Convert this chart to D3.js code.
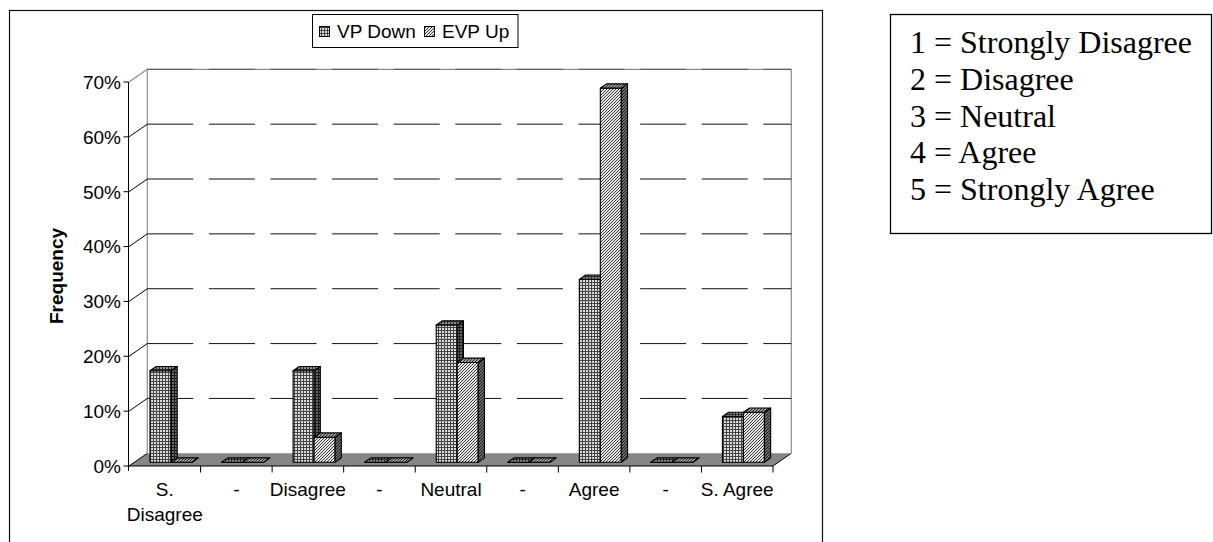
<!DOCTYPE html>
<html>
<head>
<meta charset="utf-8">
<script src="https://cdn.jsdelivr.net/npm/d3@7"></script>
<style>
  html, body { margin: 0; padding: 0; background: #fff; }
  svg { display: block; }
  text { font-family: "Liberation Sans", Arial, sans-serif; fill: #000; }
</style>
</head>
<body>
<svg id="chart" width="1213" height="542"></svg>
<script>
// Survey responses, percentage of each group per answer
const categories = ["S. Disagree", "-", "Disagree", "-", "Neutral", "-", "Agree", "-", "S. Agree"];
const seriesNames = ["VP Down", "EVP Up"];
const vpDown = [16.67, 0, 16.67, 0, 25, 0, 33.33, 0, 8.33];
const evpUp  = [0, 0, 4.55, 0, 18.18, 0, 68.18, 0, 9.09];
const yTicks = [0, 10, 20, 30, 40, 50, 60, 70];
const scaleKey = [
  "1 = Strongly Disagree",
  "2 = Disagree",
  "3 = Neutral",
  "4 = Agree",
  "5 = Strongly Agree"
];

const svg = d3.select("#chart");

// ---------- fill patterns for the 3-D faces ----------
const defs = svg.append("defs");
function gridPattern(id, bg, line) {
  const p = defs.append("pattern").attr("id", id)
    .attr("patternUnits", "userSpaceOnUse").attr("width", 3).attr("height", 3);
  p.append("rect").attr("width", 3).attr("height", 3).attr("fill", bg);
  p.append("path").attr("d", "M0,0.5H3M0.5,0V3").attr("stroke", line).attr("stroke-width", 1);
}
function hatchPattern(id, bg, line) {
  const p = defs.append("pattern").attr("id", id)
    .attr("patternUnits", "userSpaceOnUse").attr("width", 3).attr("height", 3);
  p.append("rect").attr("width", 3).attr("height", 3).attr("fill", bg);
  p.append("path").attr("d", "M-1,1L1,-1M0,3L3,0M2,4L4,2")
    .attr("stroke", line).attr("stroke-width", 1);
}
gridPattern("vpFront", "#dcdcdc", "#444");
gridPattern("vpSide", "#666", "#1a1a1a");
gridPattern("vpTop", "#8c8c8c", "#2a2a2a");
hatchPattern("evpFront", "#e6e6e6", "#3a3a3a");
hatchPattern("evpSide", "#6a6a6a", "#1a1a1a");
hatchPattern("evpTop", "#9a9a9a", "#2a2a2a");

const faceFill = {
  "VP Down": { front: "url(#vpFront)", side: "url(#vpSide)", top: "url(#vpTop)" },
  "EVP Up":  { front: "url(#evpFront)", side: "url(#evpSide)", top: "url(#evpTop)" }
};

// ---------- outer chart frame ----------
svg.append("rect").attr("x", 9.5).attr("y", 10.5).attr("width", 813).attr("height", 540)
  .attr("fill", "none").attr("stroke", "#111").attr("stroke-width", 1.2);

// ---------- scales ----------
const x = d3.scaleBand().domain(d3.range(categories.length)).range([129, 773]);
const y = d3.scaleLinear().domain([0, 70]).range([466, 82]);
const inner = d3.scaleBand().domain(seriesNames).range([15.5, 57.5]);
const depth = { dx: 18.3, dy: -12.7 };
const barDepth = [0.3, 0.64];
const proj = (px, py, f) => [px + f * depth.dx, py + f * depth.dy];

const y0 = y(0);
const xL = x.range()[0], xR = x.range()[1];
const yTop = y(70);

// ---------- floor ----------
const floor = [[xL, y0], [xR, y0], proj(xR, y0, 1), proj(xL, y0, 1)];
svg.append("polygon").attr("points", floor.map(p => p.join(",")).join(" "))
  .attr("fill", "#868686");
svg.append("path")
  .attr("d", d3.line()([proj(xL, y0, 1), [xL, y0], [xR, y0], proj(xR, y0, 1)]))
  .attr("fill", "none").attr("stroke", "#000").attr("stroke-width", 1);

// ---------- walls ----------
const wallColor = "#8c8c8c";
const bl = proj(xL, y0, 1), tl = proj(xL, yTop, 1), tr = proj(xR, yTop, 1), br = proj(xR, y0, 1);
svg.append("path").attr("d", d3.line()([bl, tl, tr, br]))
  .attr("fill", "none").attr("stroke", wallColor).attr("stroke-width", 1.2);
svg.append("path").attr("d", d3.line()([[xL, yTop], tl]))
  .attr("fill", "none").attr("stroke", wallColor).attr("stroke-width", 1.2);

// gridlines: diagonal on the side wall, dashed along the back wall
yTicks.filter(t => t > 0).forEach(t => {
  const a = [xL, y(t)], b = proj(xL, y(t), 1), c = proj(xR, y(t), 1);
  if (t < 70) {
    svg.append("path").attr("d", d3.line()([a, b]))
      .attr("stroke", "#000").attr("stroke-width", 1).attr("fill", "none");
  }
  svg.append("path").attr("d", d3.line()([b, c]))
    .attr("stroke", t < 70 ? "#111" : "#555").attr("stroke-width", 1).attr("fill", "none")
    .attr("stroke-dasharray", "46,15.6");
});

// ---------- bars ----------
function drawBar(i, name, v) {
  const fill = faceFill[name];
  const x0 = x(i) + inner(name), x1 = x0 + inner.bandwidth();
  const yt = y(v), yb = y(0);
  const [f0, f1] = barDepth;
  const g = svg.append("g");
  const faces = [
    { pts: [proj(x0, yb, f0), proj(x0, yt, f0), proj(x1, yt, f0), proj(x1, yb, f0)], fill: fill.front },
    { pts: [proj(x1, yb, f0), proj(x1, yt, f0), proj(x1, yt, f1), proj(x1, yb, f1)], fill: fill.side },
    { pts: [proj(x0, yt, f0), proj(x0, yt, f1), proj(x1, yt, f1), proj(x1, yt, f0)], fill: fill.top }
  ];
  g.selectAll("polygon").data(faces).join("polygon")
    .attr("points", d => d.pts.map(p => p.join(",")).join(" "))
    .attr("fill", d => d.fill)
    .attr("stroke", "#000").attr("stroke-width", 1.1).attr("stroke-linejoin", "round");
}
categories.forEach((c, i) => {
  drawBar(i, "VP Down", vpDown[i]);
  drawBar(i, "EVP Up", evpUp[i]);
});

// ---------- axes ----------
svg.append("line").attr("x1", xL - 0.5).attr("x2", xL - 0.5).attr("y1", yTop).attr("y2", y0 + 5)
  .attr("stroke", "#000").attr("stroke-width", 1);
yTicks.forEach(t => {
  svg.append("line").attr("x1", xL - 5.5).attr("x2", xL - 0.5)
    .attr("y1", y(t)).attr("y2", y(t)).attr("stroke", "#000").attr("stroke-width", 1);
  svg.append("text").attr("x", xL - 8).attr("y", y(t) + 6.8)
    .attr("text-anchor", "end").attr("font-size", 19).text(t + "%");
});

d3.range(1, categories.length + 1).forEach(k => {
  const xx = k < categories.length ? x(k) : xR;
  svg.append("line").attr("x1", xx).attr("x2", xx).attr("y1", y0).attr("y2", y0 + 6.5)
    .attr("stroke", "#000").attr("stroke-width", 1);
});

categories.forEach((c, i) => {
  const cx = x(i) + x.bandwidth() / 2;
  const t = svg.append("text").attr("x", cx).attr("y", 496)
    .attr("text-anchor", "middle").attr("font-size", 19);
  const words = c.split(" ");
  if (c.length > 8 && words.length > 1 && words[1].length > 5) {
    t.append("tspan").attr("x", cx).attr("dy", 0).text(words[0]);
    t.append("tspan").attr("x", cx).attr("dy", 25).text(words.slice(1).join(" "));
  } else {
    t.text(c);
  }
});

svg.append("text")
  .attr("transform", "translate(63,276) rotate(-90)")
  .attr("text-anchor", "middle").attr("font-size", 19).attr("font-weight", "bold")
  .text("Frequency");

// ---------- legend ----------
const lg = svg.append("g");
lg.append("rect").attr("x", 312.5).attr("y", 14.5).attr("width", 205.5).attr("height", 33)
  .attr("fill", "#fff").attr("stroke", "#000").attr("stroke-width", 1);
const legendX = [319, 424];
seriesNames.forEach((name, k) => {
  lg.append("rect").attr("x", legendX[k] + 0.5).attr("y", 26.5).attr("width", 10).attr("height", 10)
    .attr("fill", faceFill[name].front).attr("stroke", "#000").attr("stroke-width", 1);
  lg.append("text").attr("x", legendX[k] + 18).attr("y", 38)
    .attr("font-size", 19).text(name);
});

// ---------- answer scale key ----------
const key = svg.append("g");
key.append("rect").attr("x", 890.5).attr("y", 14.5).attr("width", 321).attr("height", 219)
  .attr("fill", "#fff").attr("stroke", "#000").attr("stroke-width", 1.3);
key.selectAll("text").data(scaleKey).join("text")
  .attr("x", 910).attr("y", (d, i) => 53 + i * 36.75)
  .style("font-family", "'Liberation Serif', 'Times New Roman', serif")
  .attr("font-size", 32).text(d => d);
</script>
</body>
</html>
